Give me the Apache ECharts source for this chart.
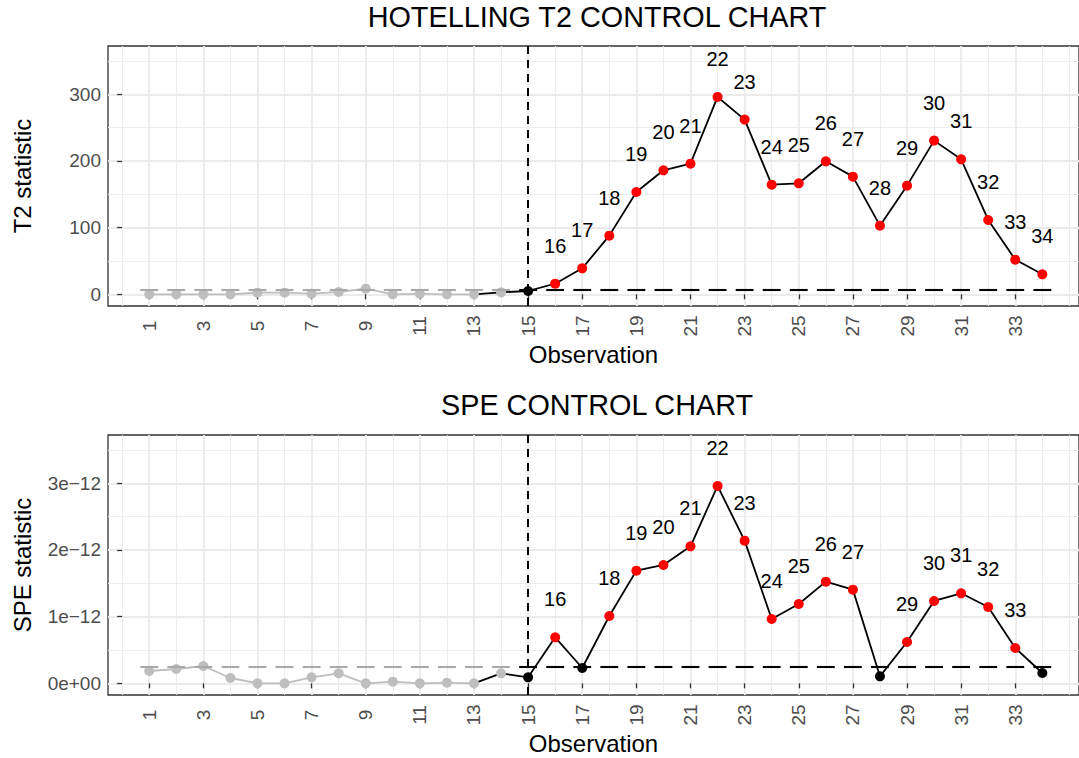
<!DOCTYPE html>
<html>
<head>
<meta charset="utf-8">
<script src="https://cdn.jsdelivr.net/npm/echarts/dist/echarts.min.js"></script>
<style>
  html, body { margin: 0; padding: 0; background: #ffffff; }
  #chart { width: 1079px; height: 758px; }
</style>
</head>
<body>
<div id="chart"></div>
<script>
// ---------------- data ----------------
const observations = [1,2,3,4,5,6,7,8,9,10,11,12,13,14,15,16,17,18,19,20,21,22,23,24,25,26,27,28,29,30,31,32,33,34];
const t2Values = [0,0,0,0,2.5,2.5,1,3.5,8.5,0,1,0,0,3,5,16,39,88,153.5,186,196,296,262,164.5,166.5,199.5,176.5,103,163,230.5,202.5,111.5,52,30];
const t2Limit = 7.5;
// SPE values, in units of 1e-12
const speValues = [0.185,0.215,0.26,0.08,0,0,0.09,0.15,0,0.025,0,0.01,0,0.15,0.09,0.69,0.23,1.01,1.69,1.775,2.055,2.96,2.14,0.965,1.19,1.525,1.405,0.105,0.62,1.235,1.35,1.145,0.53,0.155];
const speLimit = 0.245;
const phaseOneLast = 14;      // observations 1..14 are phase I (grey)
const greyLineLast = 13;      // grey connecting line runs through observation 13
const xTickLabels = [1,3,5,7,9,11,13,15,17,19,21,23,25,27,29,31,33];
const xMinorBreaks = [0,2,4,6,8,10,12,14,16,18,20,22,24,26,28,30,32,34,35];
const t2TickLabels = [0,100,200,300];
const t2MinorBreaks = [50,150,250,350];
const speTickLabels = [0,1,2,3];
const speMinorBreaks = [0.5,1.5,2.5,3.5];

// ---------------- style ----------------
const FONT = '"Liberation Sans", Arial, Helvetica, sans-serif';
const GRID_LEFT = 108, GRID_WIDTH = 973, GRID_HEIGHT = 260;
const X_MIN = -0.523, X_MAX = 35.355;
const GREY = '#BEBEBE', RED = '#FF0000', BLACK = '#000000';

const panels = [
  { title: 'HOTELLING T2 CONTROL CHART', titleY: 17, top: 46, yName: 'T2 statistic',
    values: t2Values, limit: t2Limit, ticks: t2TickLabels, minor: t2MinorBreaks,
    yMin: -17.5, yMax: 372.4, fmt: v => String(v) },
  { title: 'SPE CONTROL CHART', titleY: 405, top: 435, yName: 'SPE statistic',
    values: speValues, limit: speLimit, ticks: speTickLabels, minor: speMinorBreaks,
    yMin: -0.175, yMax: 3.724, fmt: v => (v === 0 ? '0e+00' : v + 'e\u221212') }
];

const grid = [], xAxis = [], yAxis = [], series = [], graphic = [];

panels.forEach((p, i) => {
  grid.push({ left: GRID_LEFT, top: p.top, width: GRID_WIDTH, height: GRID_HEIGHT,
    show: true, borderColor: '#333333', borderWidth: 1.3, backgroundColor: 'transparent' });

  graphic.push({ type: 'text', x: 597, y: p.titleY, silent: true,
    style: { text: p.title, fill: '#000', font: 'normal 28.8px ' + FONT,
      align: 'center', verticalAlign: 'middle' } });

  // major x axis
  xAxis.push({ type: 'value', gridIndex: i, min: X_MIN, max: X_MAX,
    axisLine: { show: false },
    axisTick: { show: true, customValues: xTickLabels, length: 5, lineStyle: { color: '#333333', width: 1.3 } },
    axisLabel: { show: true, customValues: xTickLabels, rotate: 90, align: 'center', verticalAlign: 'middle',
      margin: 20, fontSize: 19, color: '#4D4D4D', fontFamily: FONT },
    splitLine: { show: true, lineStyle: { color: '#EBEBEB', width: 1.8 } },
    name: 'Observation', nameLocation: 'middle', nameGap: 48,
    nameTextStyle: { fontSize: 24, color: '#000', fontFamily: FONT, verticalAlign: 'middle' } });

  // major y axis
  yAxis.push({ type: 'value', gridIndex: i, min: p.yMin, max: p.yMax,
    axisLine: { show: false },
    axisTick: { show: true, customValues: p.ticks, length: 5, lineStyle: { color: '#333333', width: 1.3 } },
    axisLabel: { show: true, customValues: p.ticks, formatter: p.fmt, margin: 7,
      fontSize: 19, color: '#4D4D4D', fontFamily: FONT },
    splitLine: { show: true, lineStyle: { color: '#EBEBEB', width: 1.8 } },
    name: p.yName, nameLocation: 'middle', nameGap: 86,
    nameTextStyle: { fontSize: 24, color: '#000', fontFamily: FONT, verticalAlign: 'middle' } });
});

// minor axes (gridlines only)
panels.forEach((p, i) => {
  xAxis.push({ type: 'value', gridIndex: i, min: X_MIN, max: X_MAX, position: 'bottom',
    axisLine: { show: false }, axisLabel: { show: false },
    axisTick: { show: false, customValues: xMinorBreaks },
    splitLine: { show: true, lineStyle: { color: '#EBEBEB', width: 0.9 } } });
  yAxis.push({ type: 'value', gridIndex: i, min: p.yMin, max: p.yMax, position: 'left',
    axisLine: { show: false }, axisLabel: { show: false },
    axisTick: { show: false, customValues: p.minor },
    splitLine: { show: true, lineStyle: { color: '#EBEBEB', width: 0.9 } } });
});

panels.forEach((p, i) => {
  const pts = observations.map((o, k) => [o, p.values[k]]);
  const axes = { xAxisIndex: i, yAxisIndex: i };

  series.push(Object.assign({ type: 'line', z: 2, silent: true, showSymbol: false, symbol: 'none',
    data: pts.filter(d => d[0] <= greyLineLast),
    lineStyle: { color: GREY, width: 1.8 } }, axes));
  series.push(Object.assign({ type: 'line', z: 2, silent: true, showSymbol: false, symbol: 'none',
    data: pts.filter(d => d[0] >= greyLineLast),
    lineStyle: { color: BLACK, width: 1.8 } }, axes));

  series.push(Object.assign({ type: 'scatter', z: 3, silent: true, symbolSize: 10,
    data: pts.filter(d => d[0] <= phaseOneLast), itemStyle: { color: GREY, opacity: 1 } }, axes));
  series.push(Object.assign({ type: 'scatter', z: 3, silent: true, symbolSize: 10,
    data: pts.filter(d => d[0] > phaseOneLast && d[1] <= p.limit), itemStyle: { color: BLACK, opacity: 1 } }, axes));
  series.push(Object.assign({ type: 'scatter', z: 3, silent: true, symbolSize: 10,
    data: pts.filter(d => d[0] > phaseOneLast && d[1] > p.limit), itemStyle: { color: RED, opacity: 1 },
    label: { show: true, position: 'inside', offset: [0, -38], formatter: prm => String(prm.value[0]),
      fontSize: 20, color: '#000', opacity: 1, textBorderWidth: 0, fontFamily: FONT } }, axes));

  // control limit: one dash per observation
  series.push(Object.assign({ type: 'lines', coordinateSystem: 'cartesian2d', z: 4, silent: true,
    polyline: false,
    data: observations.map(o => ({
      coords: [[o - 0.33, p.limit], [o + 0.33, p.limit]],
      lineStyle: { color: o <= phaseOneLast ? '#A9A9A9' : BLACK, width: 2.1, opacity: 1 }
    })),
    lineStyle: { width: 2.1, opacity: 1 },
    markLine: { silent: true, symbol: 'none', label: { show: false },
      lineStyle: { color: BLACK, width: 2, type: [8, 6] },
      data: [{ xAxis: phaseOneLast + 1 }] } }, axes));
});

const chart = echarts.init(document.getElementById('chart'), null, { renderer: 'svg', width: 1079, height: 758 });
chart.setOption({
  animation: false,
  backgroundColor: '#ffffff',
  grid, xAxis, yAxis, series, graphic
});
</script>
</body>
</html>
